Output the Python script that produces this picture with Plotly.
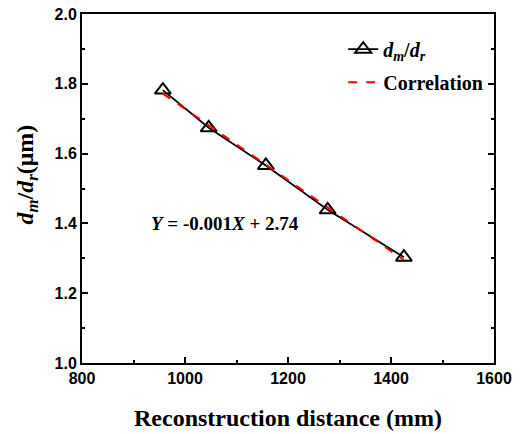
import plotly.graph_objects as go

# data
distance_mm = [957, 1046, 1157, 1277, 1425]
dm_over_dr = [1.782, 1.674, 1.566, 1.439, 1.303]
corr_x = [957, 1425]
corr_y = [1.772, 1.295]
x_ticks = [800, 1000, 1200, 1400, 1600]
y_ticks = [1.0, 1.2, 1.4, 1.6, 1.8, 2.0]

serif = "Liberation Serif"
sans = "Liberation Sans"

fig = go.Figure()
fig.add_trace(go.Scatter(
    x=distance_mm, y=dm_over_dr, mode="lines+markers",
    name="<i>d<sub>m</sub></i>/<i>d<sub>r</sub></i>", legendgroup="a",
    line=dict(color="black", width=1.8),
    marker=dict(symbol="triangle-up-open", size=14, color="black",
                line=dict(width=2, color="black")),
))
fig.add_trace(go.Scatter(
    x=corr_x, y=corr_y, mode="lines", name="Correlation", legendgroup="b",
    line=dict(color="#ff0000", width=2, dash="dash"),
))

fig.add_annotation(
    x=1077, y=1.4, xref="x", yref="y", showarrow=False,
    text="<i>Y</i> = -0.001<i>X</i> + 2.74",
    font=dict(family=serif, size=19, color="black", weight="bold"),
)
# axis titles
fig.add_annotation(
    x=0.5, y=0, xref="paper", yref="paper", showarrow=False,
    yanchor="middle", yshift=-55,
    text="Reconstruction distance (mm)",
    font=dict(family=serif, size=24, color="black", weight="bold"),
)
fig.add_annotation(
    x=0, y=0.54, xref="paper", yref="paper", showarrow=False,
    xanchor="center", xshift=-55, textangle=-90,
    text="<i>d<sub>m</sub></i>/<i>d<sub>r</sub></i>(μm)",
    font=dict(family=serif, size=24, color="black", weight="bold"),
)

axis_common = dict(
    showline=True, linecolor="black", linewidth=2,
    ticks="inside", ticklen=6, tickwidth=2, tickcolor="black",
    showgrid=False, zeroline=False, automargin=False,
    ticklabeloverflow="allow",
    tickfont=dict(family=sans, size=16, color="black", weight="bold"),
)

fig.update_xaxes(
    range=[800, 1600], tickvals=x_ticks, mirror=True,
    minor=dict(ticks="inside", ticklen=3, tickwidth=2, tickcolor="black", dtick=100),
    **axis_common,
)
fig.update_yaxes(
    range=[1.0, 2.0], tickvals=y_ticks, tickformat=".1f", mirror="ticks",
    minor=dict(ticks="inside", ticklen=3, tickwidth=2, tickcolor="black", dtick=0.1),
    **axis_common,
)

# page body has an 8px margin, so the figure is sized and offset for it
fig.update_layout(
    width=515, height=426,
    margin=dict(l=74, r=29, t=6, b=71),
    plot_bgcolor="white", paper_bgcolor="white",
    showlegend=True,
    legend=dict(x=0.634, y=0.955, xanchor="left", yanchor="top",
                bgcolor="rgba(0,0,0,0)",
                font=dict(family=serif, size=20, color="black", weight="bold"),
                itemwidth=30, tracegroupgap=4),
)

fig.write_html("out.html")
